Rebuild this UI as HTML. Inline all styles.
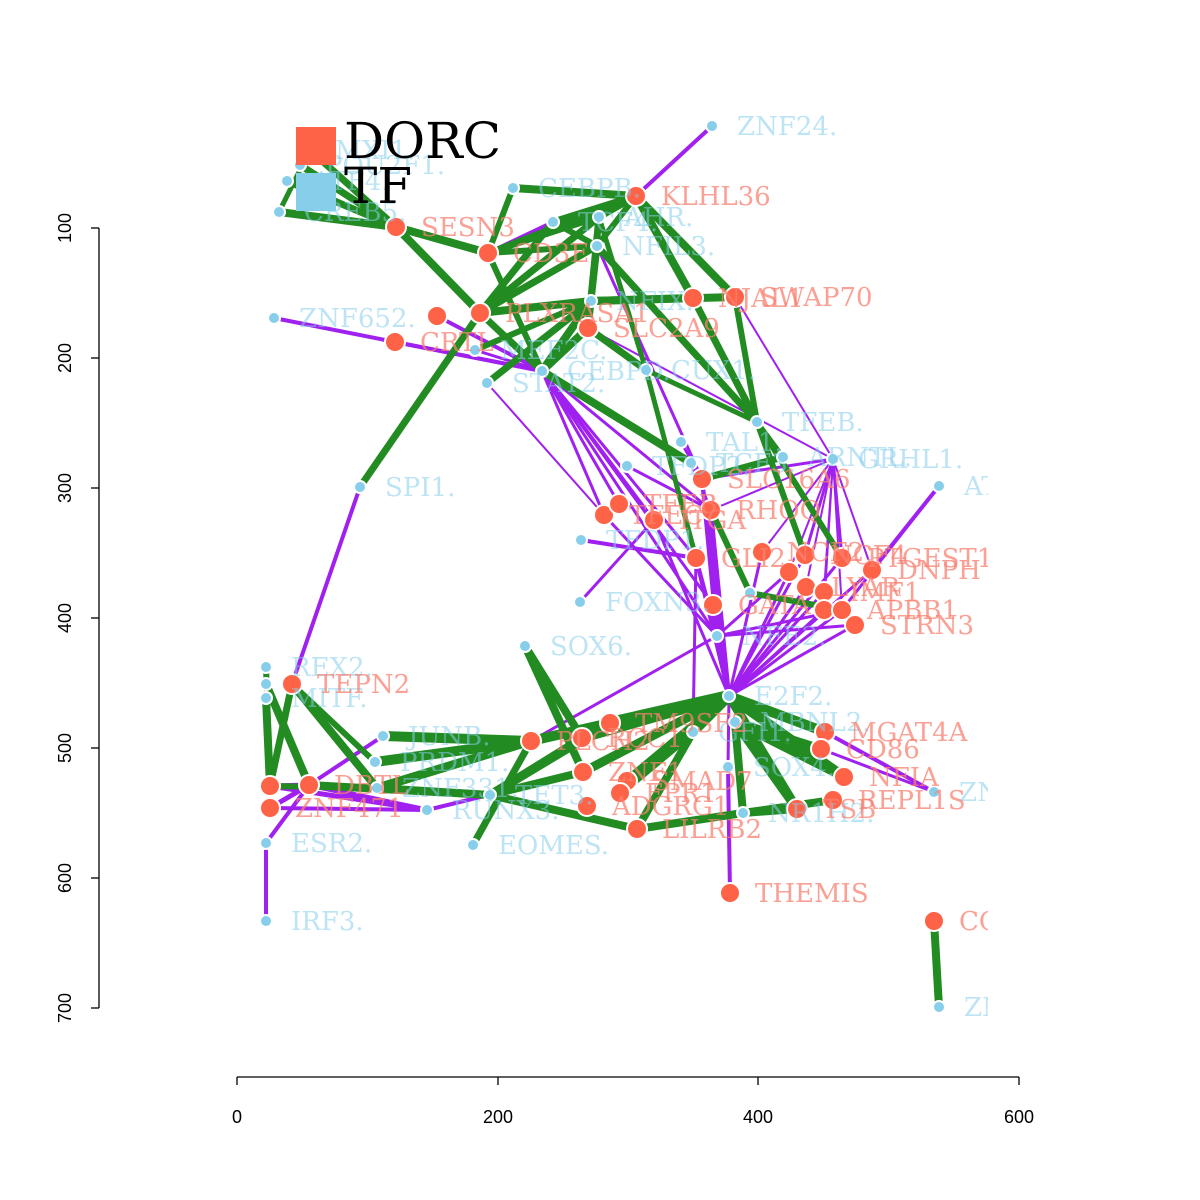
<!DOCTYPE html>
<html><head><meta charset="utf-8"><style>body{margin:0;background:#fff}svg{display:block}</style></head>
<body>
<svg id="s" width="1200" height="1200" xmlns="http://www.w3.org/2000/svg" font-family="DejaVu Serif, serif">
<defs><clipPath id="c"><rect x="100" y="100" width="888" height="960"/></clipPath></defs>
<g font-family="Liberation Sans, sans-serif" font-size="18" fill="#000" stroke="#000" stroke-width="1.3">
<line x1="99" y1="228" x2="99" y2="1008"/>
<line x1="91" y1="228" x2="99" y2="228"/><line x1="91" y1="358" x2="99" y2="358"/><line x1="91" y1="488" x2="99" y2="488"/><line x1="91" y1="618" x2="99" y2="618"/><line x1="91" y1="748" x2="99" y2="748"/><line x1="91" y1="878" x2="99" y2="878"/><line x1="91" y1="1008" x2="99" y2="1008"/>
<line x1="237" y1="1077" x2="1019" y2="1077"/>
<line x1="237" y1="1077" x2="237" y2="1085"/><line x1="498" y1="1077" x2="498" y2="1085"/><line x1="758" y1="1077" x2="758" y2="1085"/><line x1="1019" y1="1077" x2="1019" y2="1085"/>
<g stroke="none" text-anchor="middle">
<text transform="translate(71,228) rotate(-90)">100</text>
<text transform="translate(71,358) rotate(-90)">200</text>
<text transform="translate(71,488) rotate(-90)">300</text>
<text transform="translate(71,618) rotate(-90)">400</text>
<text transform="translate(71,748) rotate(-90)">500</text>
<text transform="translate(71,878) rotate(-90)">600</text>
<text transform="translate(71,1008) rotate(-90)">700</text>
<text x="237" y="1123">0</text><text x="498" y="1123">200</text><text x="758" y="1123">400</text><text x="1019" y="1123">600</text>
</g></g>
<g id="net" clip-path="url(#c)"></g>
<rect x="296" y="127" width="40" height="38" fill="#FF6347"/>
<rect x="296" y="173" width="40" height="38" fill="#87CEEB"/>
<text x="344" y="158" font-size="50" fill="#000">DORC</text>
<text x="344" y="203" font-size="50" fill="#000">TF</text>
</svg>
<script>
var N={
SESN3:[396,227,1,"SESN3"],CD3E:[488,253,1,"CD3E"],KLHL36:[636,196,1,"KLHL36"],PLX:[437,316,1,""],RASA:[480,313,1,"PLXRASA1"],
SLC2A9:[588,328,1,"SLC2A9"],CRTL:[395,342,1,"CRTL"],NAJA:[693,298,1,"NJAL1"],SWAP70:[735,297,1,"SWAP70"],
CEBPB:[513,188,0,"CEBPB."],TCF4:[553,222,0,"TCF4."],AHR:[599,217,0,"AHR."],NFIL3:[597,246,0,"NFIL3."],NFI:[591,301,0,"NFIX."],
MEF2C:[475,350,0,"MEF2C."],CEBPD:[542,371,0,"CEBPD."],STAT2:[487,383,0,"STAT2."],CUX1:[646,370,0,"CUX1."],ZNF652:[274,318,0,"ZNF652."],
L1:[287,181,0,"ATF4."],CREB5:[279,212,0,"CREB5."],L3:[310,150,0,"MXI1."],L4:[300,165,0,"POU2F1."],ZNF24:[712,126,0,"ZNF24."],
SPI1:[360,487,0,"SPI1."],TFEB:[757,422,0,"TFEB."],TAL1:[681,442,0,"TAL1."],TCF3:[691,463,0,"TCF3."],TFDP:[627,466,0,"TFDP2."],
ATF3:[783,457,0,"ARNTL."],GRHL:[833,459,0,"GRHL1."],AT:[939,486,0,"ATF1."],TFDP1:[581,540,0,"TFDP1."],FOXN3:[580,602,0,"FOXN3."],
SOX6:[525,646,0,"SOX6."],GATA:[750,593,0,""],NFE2:[717,636,0,"NFE2."],E2F2:[729,696,0,"E2F2."],MBNL2:[735,722,0,"MBNL2."],
GFI1:[693,732,0,"GFI1."],SOX4:[728,767,0,"SOX4."],NR1H2:[743,813,0,"NR1H2."],ZNr:[934,792,0,"ZNF."],
SLC16:[702,479,1,"SLC16A6"],RHOQ:[711,510,1,"RHOQ"],T1:[604,515,1,"TFEC"],T2:[619,504,1,"TFEB"],T3:[654,520,1,"ITGA"],
GLI2:[696,558,1,"GLI2"],NCF2:[762,552,1,"NCF2"],R1:[805,555,1,"NCF4"],EST1:[842,558,1,"PTGEST1"],DNPH:[872,570,1,"DNPH"],
R2:[789,572,1,""],LYAR:[806,587,1,"LYAR"],IMF1:[824,592,1,"IMF1"],R3:[824,610,1,""],APBB1:[842,610,1,"APBB1"],STRN3:[855,625,1,"STRN3"],
G1:[713,605,1,"GATA"],
TM9:[610,723,1,"TM9SF2"],RCC:[582,738,1,"RCC1"],PLC:[531,741,1,"PLCH2"],ZNF:[583,772,1,"ZNF1"],PMA:[627,781,1,"SMAD7"],FPR1:[620,793,1,"FPR1"],
ADG:[587,806,1,"ADGRG1"],LILRB2:[637,829,1,"LILRB2"],MGAT:[825,732,1,"MGAT4A"],CD86:[821,749,1,"CD86"],NFIA:[844,777,1,"NFIA"],
REPL:[833,800,1,"REPL1S"],TSB:[797,809,1,"TSB"],THEMIS:[730,893,1,"THEMIS"],
REX2:[266,667,0,"REX2."],TEP:[266,684,0,""],MITF:[266,698,0,"MITF."],TEPN2:[292,684,1,"TEPN2"],D1:[270,786,1,""],ZNF471:[270,808,1,"ZNF471"],
DBT:[309,785,1,"DBTL"],JUNB:[383,736,0,"JUNB."],PRDM1:[375,762,0,"PRDM1."],ZNF331:[377,788,0,"ZNF331."],RUNX3:[427,810,0,"RUNX3."],
TET3:[490,795,0,"TET3."],EOMES:[473,845,0,"EOMES."],ESR2:[266,843,0,"ESR2."],IRF3:[266,921,0,"IRF3."],CO:[934,921,1,"CO"],ZB:[939,1007,0,"ZN"]
};
var G=[["CEBPB","KLHL36",8],["CEBPB","CD3E",6],["TCF4","KLHL36",7],["AHR","KLHL36",7],["NFIL3","KLHL36",6],["CD3E","KLHL36",6],["KLHL36","NAJA",8],["KLHL36","SWAP70",8],
["SESN3","CD3E",8],["SESN3","RASA",8],["L1","SESN3",7],["CREB5","SESN3",8],["L3","SESN3",7],["L4","SESN3",7],["L3","CREB5",5],
["CD3E","NFIL3",6],["CD3E","AHR",6],["RASA","NFIL3",7],["RASA","TCF4",7],["RASA","AHR",7],["RASA","NFI",8],["SLC2A9","NFI",7],["SLC2A9","AHR",7],["SLC2A9","NFIL3",7],
["SLC2A9","CEBPD",8],["SLC2A9","CUX1",7],["NFI","NAJA",8],["NFI","SWAP70",8],["NAJA","TFEB",7],["SWAP70","TFEB",6],["NFIL3","TFEB",7],["CUX1","TFEB",5],
["STAT2","NFI",7],["CEBPD","NFI",8],["RASA","SPI1",7],["RASA","CEBPD",7],["MEF2C","NFI",6],["TCF4","NFIL3",6],["CD3E","CEBPD",6],["AHR","CUX1",5],
["TFEB","R1",6],["TFEB","EST1",6],["TFEB","ATF3",5],["CEBPD","TCF3",8],["SLC16","ATF3",7],["CUX1","GLI2",5],["RHOQ","GATA",6],["GATA","APBB1",6],
["MITF","D1",8],["TEP","DBT",8],["TEPN2","D1",7],["TEPN2","ZNF331",8],["TEPN2","PRDM1",6],["REX2","D1",6],["JUNB","PLC",10],["PRDM1","PLC",10],["ZNF331","PLC",9],
["ZNF331","TET3",8],["DBT","TET3",8],["D1","ZNF331",6],["SOX6","ZNF",8],["SOX6","RCC",8],["EOMES","PLC",7],["TET3","RCC",8],["TET3","ZNF",8],["TET3","LILRB2",8],["TET3","TM9",9],
["LILRB2","NR1H2",8],["NR1H2","TSB",8],["NR1H2","REPL",8],["E2F2","TM9",12],["E2F2","RCC",10],["E2F2","ZNF",9],["E2F2","PMA",9],["E2F2","MGAT",10],["E2F2","NFIA",10],["E2F2","TSB",9],
["MBNL2","NFIA",9],["MBNL2","TSB",9],["MBNL2","NR1H2",8],["GFI1","LILRB2",8],["GFI1","FPR1",8],["MBNL2","CD86",9],["E2F2","GFI1",10],["CO","ZB",8],["TM9","PLC",10],["RCC","TM9",8]];
var P=[["KLHL36","ZNF24",4],["CD3E","TCF4",4],["ZNF652","CEBPD",4],["CRTL","CEBPD",4],["PLX","CEBPD",4],["CD3E","CEBPD",3],["MEF2C","CEBPD",3],
["CEBPD","T1",3],["CEBPD","T2",3],["CEBPD","T3",3],["CEBPD","GLI2",3],["CEBPD","G1",3],["CEBPD","RHOQ",3],["CEBPD","NFE2",3],["STAT2","T1",2],
["SPI1","TEPN2",4],["SWAP70","GRHL",2],["SLC2A9","GRHL",2],["NFIL3","SLC16",3],
["GRHL","R1",3],["GRHL","EST1",3],["GRHL","DNPH",2],["GRHL","R2",2],["GRHL","LYAR",2],["GRHL","IMF1",2],["GRHL","R3",2],["GRHL","APBB1",2],["GRHL","NCF2",2],["GRHL","SLC16",3],["GRHL","RHOQ",2],
["AT","DNPH",4],["AT","APBB1",3],["TFDP1","GLI2",4],["FOXN3","T3",3],["TFDP","RHOQ",3],
["NFE2","T1",3],["NFE2","SLC16",4],["NFE2","RHOQ",5],["NFE2","GLI2",4],["NFE2","G1",4],["NFE2","STRN3",3],["NFE2","APBB1",3],["NFE2","R2",3],
["E2F2","RHOQ",4],["E2F2","SLC16",4],["E2F2","G1",5],["E2F2","NCF2",3],["E2F2","R1",3],["E2F2","EST1",3],["E2F2","DNPH",3],["E2F2","R2",3],["E2F2","LYAR",3],["E2F2","IMF1",3],["E2F2","R3",3],["E2F2","APBB1",3],["E2F2","STRN3",3],["E2F2","T3",3],["E2F2","GLI2",4],
["PLC","NFE2",3],["ZNr","MGAT",4],["ZNr","CD86",3],["SOX4","THEMIS",4],["GFI1","GLI2",3],["TAL1","SLC16",3],["TCF3","RHOQ",3],
["D1","RUNX3",5],["DBT","RUNX3",5],["DBT","JUNB",4],["ZNF471","DBT",5],["ESR2","IRF3",4],["ESR2","DBT",4],["D1","DBT",5],["RUNX3","ZNF",4],["ZNF471","RUNX3",4],["SOX4","E2F2",3]];
var s="";
function ln(a,b,w,c){var A=N[a],B=N[b];s+='<line x1="'+A[0]+'" y1="'+A[1]+'" x2="'+B[0]+'" y2="'+B[1]+'" stroke="'+c+'" stroke-width="'+w+'"/>';}
P.forEach(function(e){ln(e[0],e[1],e[2],"#A020F0");});
G.forEach(function(e){ln(e[0],e[1],e[2],"#228B22");});
for(var k in N){var n=N[k];if(n[2])s+='<circle cx="'+n[0]+'" cy="'+n[1]+'" r="10" fill="#FF6347" stroke="#fff" stroke-width="2"/>';else s+='<circle cx="'+n[0]+'" cy="'+n[1]+'" r="6" fill="#87CEEB" stroke="#fff" stroke-width="2"/>';}
for(var k in N){var n=N[k];if(n[3])s+='<text x="'+(n[0]+25)+'" y="'+(n[1]+9)+'" font-size="26" fill="'+(n[2]?"rgba(250,128,114,0.75)":"rgba(135,206,235,0.55)")+'">'+n[3]+'</text>';}
document.getElementById("net").innerHTML=s;
</script>
</body></html>
